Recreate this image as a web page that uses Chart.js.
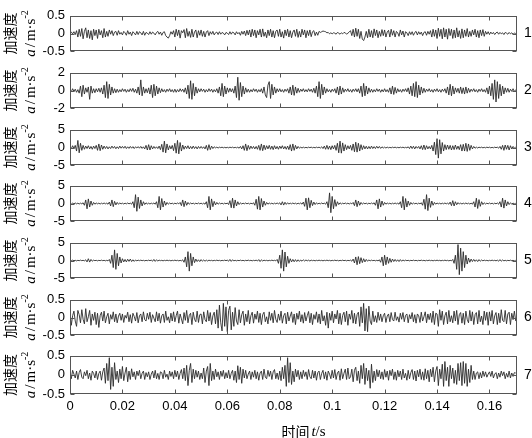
<!DOCTYPE html>
<html>
<head>
<meta charset="utf-8">
<script src="https://cdn.jsdelivr.net/npm/chart.js@4.4.1/dist/chart.umd.min.js"></script>
<style>
  html, body { margin: 0; padding: 0; background: #fff; }
  #wrap { position: relative; width: 532px; height: 438px; overflow: hidden; }
  #wrap canvas { position: absolute; left: 0; }
</style>
</head>
<body>
<div id="wrap"></div>
<script>
// 取樣間隔 (s)，每列 20 點 = 0.01 s
const DT = 0.0005;
const X_TICKS = [0, 0.02, 0.04, 0.06, 0.08, 0.1, 0.12, 0.14, 0.16];
const X_MAX = 0.1705;
const Y_TICKS = [[-0.5, 0, 0.5], [-2, 0, 2], [-5, 0, 5], [-5, 0, 5], [-5, 0, 5], [-0.5, 0, 0.5], [-0.5, 0, 0.5]];
const PANEL_NO = ['1', '2', '3', '4', '5', '6', '7'];

// 測點 1
const acc1 = [
  .02,.04,-.01,.05,-.03,.08,-.1,.12,-.08,.14,-.15,.06,.16,-.12,.1,-.14,.08,-.18,.12,-.06,
  .1,-.14,.12,-.04,.08,-.12,.14,-.1,.06,-.08,.1,-.02,.08,-.06,.04,.06,-.05,.08,-.02,.03,
  -.04,.06,.02,-.05,.08,-.02,.04,-.06,.05,.01,-.04,.06,-.03,.05,.02,-.04,.06,-.05,.03,.01,
  -.03,.05,-.02,.04,.01,-.04,.03,.06,-.02,.04,-.05,.03,.05,-.06,-.1,-.13,-.06,.05,-.02,.08,
  -.1,.12,-.06,.1,-.13,.08,.02,.11,-.12,.14,-.08,.06,-.11,.12,-.1,.04,.1,-.12,.08,-.05,
  .1,-.08,.06,-.1,.04,.08,-.06,.05,-.02,.06,-.04,.02,.04,-.03,.05,-.02,.03,.01,-.04,.03,
  .01,-.03,.05,-.02,.04,.02,-.04,.05,-.01,.03,-.05,.06,-.02,.07,-.06,.09,-.04,.1,-.1,.12,
  -.06,.1,-.12,.08,-.04,.12,-.1,.13,-.08,.04,-.12,.1,-.06,.12,-.1,.08,-.12,.06,.1,-.08,
  .12,-.1,.05,-.13,.1,-.06,.12,-.1,.08,-.12,.04,.1,-.08,.12,-.11,.06,-.1,.12,-.04,.1,
  -.12,.08,-.06,.1,-.09,.05,.08,-.06,.04,-.05,.06,.03,.05,.07,.06,.05,.02,.03,-.01,.02,
  -.01,.02,.01,-.02,.03,.01,-.02,.02,-.01,.03,.02,-.02,.01,.04,.08,-.06,.12,-.1,.15,-.08,
  .12,-.14,.06,-.16,-.2,-.1,.06,-.12,.12,-.1,.08,-.12,.13,-.06,.1,-.12,.06,-.08,.11,-.06,
  .1,-.1,.04,.09,-.1,.12,-.05,.08,-.1,.06,.02,-.08,.1,-.04,.07,-.1,.05,.02,-.06,.05,
  -.03,.05,-.05,.03,.06,-.04,.05,-.02,.04,-.06,.03,.05,-.05,.06,-.02,.08,-.1,.12,-.08,.1,
  -.14,.15,-.08,.12,-.15,.16,-.1,.12,-.16,.14,-.06,.12,-.14,.1,-.12,.16,-.1,.08,-.14,.13,
  -.12,.1,-.08,.14,-.1,.06,-.08,.1,-.04,.12,-.1,.08,-.12,.1,-.06,.11,-.08,.06,-.02,.05,
  -.03,.04,-.01,.03,-.03,.02,.04,-.02,.03,-.01,.02,-.03,.03,.01,-.02,.03,-.01,.02,-.02,.01,
  0
];

// 測點 2
const acc2 = [
  .1,-.15,.2,-.1,.15,-.2,.1,-.3,.5,-.7,.6,-.4,.3,-.2,.4,-1,.5,-.3,.2,-.25,
  .2,-.15,.25,-.2,.3,-.4,.6,-.8,1,-.9,.7,-.5,.4,-.3,.2,-.25,.15,-.2,.1,-.15,
  .2,-.1,.15,-.2,.1,-.15,.2,-.1,.25,-.2,.15,-.3,.4,-.5,1.2,-.6,.4,-.3,.2,-.25,
  .3,-.4,.6,-.8,.7,-.6,.5,-.4,.3,-.25,.2,-.15,.1,-.2,.15,-.1,.2,-.15,.1,-.2,
  .15,-.2,.1,-.15,.2,-.1,.15,-.2,.3,-.4,.6,-.9,1.1,-1,.8,-.6,.4,-.3,.2,-.15,
  .2,-.1,.15,-.2,.1,-.15,.2,-.1,.15,-.2,.1,-.15,.2,-.3,.4,-.6,.8,-.7,.5,-.4,
  .3,-.2,.25,-.15,.2,-.3,.5,-.8,1.5,-1.1,.9,-.7,.5,-.4,.3,-.2,.15,-.2,.1,-.15,
  .2,-.1,.15,-.2,.1,-.15,.2,-.3,.4,-.5,-.8,.6,1,-.9,.7,-.5,.4,-.3,.2,-.15,
  .2,-.15,.1,-.2,.15,-.1,.2,-.3,.4,-.5,.6,-.55,.4,-.3,.25,-.2,.15,-.1,.2,-.15,
  .1,-.15,.2,-.1,.15,-.2,.25,-.3,.5,-.7,1,-.9,.7,-.5,.4,-.3,.2,-.15,.1,-.2,
  .15,-.1,.2,-.3,.4,-.5,.5,-.4,.3,-.2,.15,-.1,.2,-.15,.1,-.2,.15,-.1,.2,-.15,
  .2,-.3,.5,-.7,.8,-.6,.5,-.4,.3,-.2,.15,-.2,.1,-.15,.2,-.1,.15,-.2,.1,-.15,
  .2,-.15,.1,-.2,.3,-.4,.5,-.45,.35,-.3,.2,-.15,.1,-.2,.15,-.1,.2,-.15,.3,-.4,
  .5,-.6,.8,-.7,1,-.8,.6,-.5,.4,-.3,.25,-.2,.15,-.1,.2,-.15,.1,-.2,.15,-.1,
  .2,-.15,.1,-.2,.15,-.1,.2,-.3,.4,-.5,.7,-.6,.5,-.4,.3,-.2,.25,-.3,.4,-.35,
  .3,-.4,.4,-.3,.25,-.2,.15,-.1,.2,-.15,.1,-.2,.15,-.1,.2,-.15,.1,-.2,.3,-.4,
  .5,-.6,.8,-1,1.2,-1.3,1,-.9,.7,-.6,.5,-.4,.3,-.2,.25,-.2,.15,-.1,.2,-.15,
  .1
];

// 測點 3
const acc3 = [
  .3,-.4,.5,-.3,.6,-1,2,-1.5,1.2,-.8,.6,-.5,.4,-.3,.5,-.4,.3,-.5,.4,-.3,
  .6,-.8,1,-.9,.7,-.5,.4,-.3,.3,-.4,.2,-.3,.4,-.2,.3,-.35,.2,-.3,.4,-.2,
  .3,-.2,.35,-.3,.2,-.25,.3,-.2,.25,-.3,.2,-.15,.25,-.2,.3,-.25,.2,-.4,.6,-.7,
  .8,-.7,.5,-.4,.3,-.25,.2,-.3,.4,-.6,.9,-1.3,1.8,-1.5,1,-.7,.5,-.4,.6,-.9,
  1.2,-1.6,2,-1.8,1.4,-1,.7,-.5,.4,-.3,.5,-.4,.3,-.35,.4,-.3,.25,-.4,.3,-.25,
  .3,-.25,.2,-.4,.6,-.8,.8,-.6,.4,-.3,.2,-.1,.1,-.15,.1,-.05,.1,-.1,.05,-.1,
  .05,-.1,.1,-.05,.1,-.1,.05,-.1,.1,-.2,.3,-.4,.5,-.8,1,-.9,.6,-.5,.4,-.3,
  .3,-.4,.3,-.5,.6,-.8,1,-.9,.7,-.6,.5,-.4,.6,-.5,.4,-.6,.5,-.4,.3,-.5,
  .4,-.3,.5,-.4,.3,-.5,.4,-.6,.8,-1,1,-.8,.6,-.4,.3,-.2,.1,-.15,.1,-.1,
  .05,-.1,.1,-.05,.1,-.1,.05,-.1,.1,-.05,.1,-.15,.2,-.3,.4,-.5,.6,-.5,.4,-.6,
  .5,-.4,.6,-.8,1.2,-1.5,1.8,-1.6,1.3,-1,.8,-.6,.5,-.4,.6,-.8,1,-1.2,1.5,-1.3,
  1.2,-1,.8,-.6,.5,-.4,.35,-.4,.3,-.35,.4,-.3,.25,-.3,.35,-.2,.3,-.25,.2,-.15,
  .1,-.15,.1,-.1,.05,-.1,.1,-.05,.1,-.1,.05,-.1,.1,-.05,.1,-.1,.05,-.1,.2,-.3,
  .4,-.3,.35,-.4,.3,-.2,.3,-.4,.5,-.6,.7,-.6,.5,-.4,.3,-.4,.6,-1,1.5,-2,
  2.5,-3,2.2,-1.8,1.4,-1,.8,-.6,.7,-.5,.6,-.7,.5,-.6,.7,-.5,.4,-.6,.8,-1,
  .9,-1,1.2,-1.1,1,-.8,.6,-.4,.3,-.2,.1,-.15,.1,-.05,.1,-.1,.05,-.1,.1,-.05,
  .1,-.1,.05,-.1,.1,-.05,.1,-.2,.3,-.5,.6,-.8,.7,-.5,.6,-.7,.5,-.4,.3,-.2,
  .1
];

// 測點 4
const acc4 = [
  .1,-.15,.1,-.1,.15,-.1,.1,-.15,.1,-.1,.2,-.5,1,-1.5,1.3,-1,.7,-.5,.3,-.2,
  .15,-.1,.1,-.15,.1,-.1,.15,-.1,.1,-.2,.4,-.7,1,-.9,.6,-.4,.3,-.2,.15,-.1,
  .1,-.15,.1,-.1,.15,-.1,.1,-.2,.5,-1.2,2.5,-2.2,1.8,-1.4,1,-.7,.5,-.3,.2,-.15,
  .1,-.15,.1,-.1,.15,-.2,.5,-1.2,2,-1.8,1.4,-1,.7,-.5,.3,-.2,.15,-.1,.1,-.15,
  .1,-.1,.15,-.1,.3,-.6,1,-.9,.7,-.5,.3,-.2,.15,-.1,.1,-.15,.1,-.1,.15,-.1,
  .1,-.15,.1,-.2,.5,-1.2,2,-1.8,1.3,-.9,.6,-.4,.3,-.2,.15,-.1,.1,-.15,.1,-.1,
  .15,-.3,.8,-1.2,1.5,-1.3,1,-.7,.5,-.3,.2,-.15,.1,-.1,.15,-.1,.1,-.15,.1,-.1,
  .2,-.5,1.2,-1.6,2,-1.8,1.4,-1,.7,-.5,.3,-.2,.15,-.1,.1,-.15,.1,-.1,.15,-.1,
  .2,-.4,.5,-.45,.35,-.25,.2,-.15,.1,-.1,.15,-.1,.1,-.15,.1,-.1,.15,-.2,.4,-.8,
  1.5,-1.8,1.6,-1.2,.9,-.6,.4,-.3,.2,-.15,.1,-.1,.15,-.1,.1,-.2,.5,-1.2,3,-2.6,
  2,-1.5,1.1,-.8,.5,-.3,.2,-.15,.1,-.1,.15,-.1,.1,-.15,.1,-.1,.3,-.6,1,-.9,
  .7,-.5,.3,-.2,.15,-.1,.1,-.15,.1,-.1,.15,-.1,.2,-.5,1,-1.5,1.3,-1,.7,-.5,
  .3,-.2,.15,-.1,.1,-.15,.1,-.1,.15,-.1,.1,-.2,.5,-1.2,2,-1.8,1.4,-1,.7,-.5,
  .3,-.2,.15,-.1,.1,-.15,.1,-.1,.2,-.5,1.2,-1.6,2.5,-2,1.5,-1.1,.7,-.5,.3,-.2,
  .15,-.1,.1,-.15,.1,-.1,.15,-.1,.1,-.2,.4,-.6,.8,-.7,.5,-.35,.25,-.15,.1,-.15,
  .1,-.1,.15,-.1,.1,-.15,.1,-.2,.5,-1,1.5,-1.4,1.1,-.8,.5,-.3,.2,-.15,.1,-.1,
  .15,-.1,.1,-.15,.1,-.1,.15,-.2,.5,-1,1.5,-1.3,1,-.7,.5,-.3,.2,-.15,.1,-.1,
  .05
];

// 測點 5
const acc5 = [
  .05,-.05,.1,-.05,.05,-.1,.05,-.05,.1,-.05,.05,-.1,.2,-.4,.5,-.45,.3,-.2,.1,-.05,
  .05,-.1,.05,-.05,.1,-.05,.05,-.1,.05,-.1,.3,-.8,1.5,-2,3,-2.5,2,-1.5,1,-.7,
  .5,-.4,.3,-.4,.35,-.25,.4,-.3,.2,-.25,.15,-.1,.1,-.05,.1,-.05,.05,-.1,.05,-.05,
  .1,-.05,.1,-.2,.3,-.25,.2,-.15,.1,-.05,.05,-.1,.05,-.05,.1,-.05,.05,-.1,.05,-.05,
  .1,-.05,.05,-.1,.05,-.1,.2,-.5,1,-1.8,2.5,-3,2,-1.5,1,-.6,.4,-.3,.2,-.3,
  .25,-.2,.15,-.2,.1,-.15,.1,-.05,.05,-.1,.05,-.05,.1,-.05,.05,-.1,.05,-.05,.1,-.05,
  .1,-.2,.3,-.25,.2,-.1,.05,-.1,.05,-.05,.1,-.05,.05,-.1,.05,-.05,.1,-.05,.05,-.1,
  .05,-.05,.1,-.15,.25,-.3,.2,-.15,.1,-.05,.05,-.1,.05,-.05,.1,-.05,.05,-.1,.3,-.8,
  1.5,-2.2,3,-3,2.4,-1.8,1.2,-.8,.5,-.4,.3,-.35,.25,-.3,.2,-.25,.15,-.2,.2,-.15,
  .15,-.1,.1,-.15,.1,-.05,.05,-.1,.05,-.05,.1,-.05,.05,-.1,.05,-.05,.1,-.05,.05,-.1,
  .05,-.05,.1,-.05,.05,-.1,.05,-.05,.1,-.05,.05,-.1,.05,-.05,.1,-.2,.4,-.7,1,-1.2,
  1.1,-.9,.8,-.6,.5,-.4,.3,-.2,.15,-.1,.1,-.05,.05,-.1,.05,-.1,.2,-.5,1,-1.5,
  1.5,-1.2,1,-.8,.6,-.5,.4,-.3,.3,-.25,.2,-.3,.25,-.2,.15,-.1,.1,-.05,.05,-.1,
  .05,-.05,.1,-.05,.05,-.1,.05,-.05,.1,-.05,.05,-.1,.05,-.05,.1,-.05,.05,-.1,.05,-.05,
  .1,-.05,.05,-.1,.05,-.05,.1,-.05,.05,-.1,.05,-.1,.3,-.8,1.5,-2.5,4.5,-4,3.5,-3,
  2.5,-2,1.5,-1,.7,-.5,.4,-.3,.3,-.25,.2,-.3,.25,-.2,.15,-.1,.1,-.05,.05,-.1,
  .05,-.05,.1,-.05,.05,-.1,.1,-.2,.25,-.2,.15,-.1,.05,-.1,.05,-.05,.1,-.05,.05,-.1,
  .05
];

// 測點 6
const acc6 = [
  .15,-.22,.05,.18,-.1,-.25,.2,.08,-.15,.22,-.05,-.18,.25,-.12,.02,.2,-.22,.1,-.08,.15,
  -.2,.12,-.28,.05,.15,-.1,.18,-.15,.02,.12,-.18,.08,-.05,.16,-.12,.1,-.15,.04,.12,-.08,
  .1,-.14,.06,-.02,.15,-.12,.08,-.16,.12,.03,-.1,.14,-.15,.05,.1,-.12,.16,-.06,-.1,.12,
  -.05,.15,-.14,.08,-.02,-.12,.16,-.1,.12,-.16,.05,.1,-.14,.18,-.08,.02,-.15,.12,-.1,.16,
  -.12,.05,.18,-.16,.1,-.04,-.18,.14,-.08,.2,-.15,.06,.12,-.2,.15,-.05,-.12,.18,-.14,.08,
  .1,-.18,.16,-.06,-.12,.2,-.1,.14,-.2,.05,.15,-.18,.22,-.3,.35,-.15,-.38,.4,-.25,.3,
  -.4,.2,.32,-.35,.15,-.25,.28,-.1,-.2,.22,-.15,.08,.18,-.22,.1,-.12,.2,-.18,.05,.15,
  -.16,.1,-.05,.18,-.14,.12,-.2,.08,.15,-.12,.02,-.18,.16,-.08,.12,-.15,.2,-.05,-.14,.1,
  -.08,.18,-.16,.05,.12,-.18,.15,-.1,.04,.16,-.14,.1,-.2,.12,-.05,.18,-.12,.08,-.16,.14,
  -.1,.05,.17,-.15,.12,-.2,.08,-.05,.16,-.14,.1,-.18,.2,-.1,.05,-.22,.15,-.3,.12,-.08,
  .18,-.15,.1,-.04,.2,-.18,.12,-.2,.06,.15,-.12,.18,-.22,.1,-.05,.2,-.16,.12,-.18,.08,
  .15,-.25,.3,-.15,.4,-.38,.25,-.4,.32,-.1,-.2,.18,-.12,.05,-.14,.15,-.08,.1,-.12,.05,
  .12,-.14,.04,.1,-.12,.14,-.06,-.1,.15,-.08,.02,-.13,.12,-.05,.14,-.12,.06,.1,-.15,.08,
  -.04,.14,-.12,.08,-.16,.1,.05,-.14,.15,-.1,.02,.16,-.15,.1,-.06,.12,-.14,.18,-.2,.12,
  .1,-.25,.22,-.08,.18,-.2,.05,.15,-.18,.2,-.12,.05,-.15,.18,-.1,.2,-.2,.08,.14,-.16,
  .12,-.2,.18,-.05,-.15,.2,-.1,.16,-.2,.08,.14,-.18,.2,-.12,.04,-.2,.18,-.08,.15,-.22,
  .16,-.1,.2,-.18,.05,.14,-.2,.12,-.15,.22,-.08,-.12,.2,-.18,.1,.15,-.2,.12,-.06,.18,
  -.1
];

// 測點 7
const acc7 = [
  .05,-.1,.12,.02,-.08,.1,-.12,.06,.14,-.06,-.1,.08,-.02,.12,-.1,.05,-.14,.1,.04,-.08,
  .1,-.12,.04,.1,-.14,.08,.18,-.22,.3,-.15,.45,-.38,.2,-.3,.32,-.12,.1,-.2,.15,-.1,
  .22,-.15,.05,.2,-.18,.1,-.12,.16,-.05,.08,-.12,.1,-.02,.12,-.1,.04,.1,-.12,.06,-.05,
  .08,-.12,.02,.1,-.08,.12,-.1,.04,-.12,.08,.06,-.1,.12,-.06,.02,-.12,.1,-.04,.08,-.1,
  .12,-.05,.1,-.12,.04,.14,-.1,.18,-.15,.25,-.28,.12,.3,-.2,.15,-.1,.12,-.06,.1,-.12,
  .05,-.1,.18,-.2,.1,.22,-.28,.3,-.15,.1,-.12,.15,-.05,.08,-.12,.1,-.04,.12,-.1,.06,
  -.08,.12,-.1,.04,.12,-.14,.1,-.2,.24,-.12,.2,-.22,.15,-.08,.12,-.1,.02,.1,-.12,.08,
  -.06,.12,-.1,.08,-.14,.05,.1,-.12,.15,-.06,-.1,.12,-.04,.1,-.12,.08,.14,-.1,.05,-.12,
  .1,-.15,.2,-.1,.25,-.3,.45,-.2,.32,-.25,.1,-.18,.15,-.05,.12,-.12,.08,-.1,.12,-.04,
  .08,-.12,.14,-.05,-.1,.12,-.08,.1,-.14,.06,.1,-.12,.04,.12,-.1,.08,-.14,.1,.02,-.1,
  .12,-.08,.14,-.12,.05,.1,-.14,.16,-.1,.04,.15,-.12,.18,-.1,-.05,.15,-.18,.12,.2,-.15,
  .1,-.22,.25,-.1,.3,-.25,.18,-.15,.12,-.35,.28,-.2,.1,-.15,.14,-.05,.12,-.1,.08,-.12,
  .14,-.06,.1,-.14,.12,-.02,.15,-.12,.08,-.14,.12,-.05,.1,-.12,.15,-.08,.04,-.14,.12,-.1,
  .06,.14,-.12,.1,-.16,.12,-.05,.15,-.12,.08,-.14,.16,-.1,.12,-.18,.15,-.05,.2,-.18,.1,
  .22,-.28,.15,-.1,.28,-.3,.35,-.15,.2,-.3,.25,-.1,.18,-.22,.12,-.25,.3,-.15,.32,-.28,
  .35,-.22,.3,-.3,.15,-.2,.25,-.12,.1,-.12,.05,.08,-.1,.06,-.08,.1,-.04,.08,-.06,.02,
  .08,-.04,.1,-.08,.02,.06,-.1,.05,-.06,.1,-.02,.08,-.1,.04,-.06,.1,-.08,.05,-.04,.06,
  .05
];

const SERIES = [acc1, acc2, acc3, acc4, acc5, acc6, acc7];

// 版面
const PANEL_TOP = [13, 70, 127, 183, 240, 297, 353];
const PANEL_H = 41;
const PAD = 10;

Chart.defaults.font.family = '"Liberation Sans", Arial, sans-serif';
Chart.defaults.font.size = 13;
Chart.defaults.color = '#000';

// 外框、內向刻度、右側編號、縱軸標題
const framePlugin = {
  id: 'frame',
  afterDatasetsDraw(chart, args, opts) {
    const { ctx, chartArea: a, scales: { x, y } } = chart;
    const L = Math.round(a.left) + .5, R = Math.round(a.right) - .5;
    const T = Math.round(a.top) + .5, B = Math.round(a.bottom) - .5;
    ctx.save();
    ctx.strokeStyle = '#555';
    ctx.lineWidth = 1;
    ctx.strokeRect(L, T, R - L, B - T);
    ctx.beginPath();
    X_TICKS.forEach(v => {
      const px = Math.round(x.getPixelForValue(v)) + .5;
      ctx.moveTo(px, T); ctx.lineTo(px, T + 4);
      ctx.moveTo(px, B); ctx.lineTo(px, B - 4);
    });
    y.ticks.forEach(t => {
      const py = Math.round(y.getPixelForValue(t.value)) + .5;
      ctx.moveTo(L, py); ctx.lineTo(L + 4, py);
      ctx.moveTo(R, py); ctx.lineTo(R - 4, py);
    });
    ctx.stroke();

    // 右側編號
    ctx.fillStyle = '#000';
    ctx.font = '14px "Liberation Sans", Arial, sans-serif';
    ctx.textAlign = 'left';
    ctx.textBaseline = 'middle';
    ctx.fillText(opts.no, a.right + 7, y.getPixelForValue(0));

    // 縱軸標題（兩行，旋轉）
    const cy = (a.top + a.bottom) / 2;
    ctx.save();
    ctx.translate(10, cy);
    ctx.rotate(-Math.PI / 2);
    ctx.textAlign = 'center';
    ctx.font = '14px "Noto Sans CJK SC", sans-serif';
    ctx.fillText('加速度', 0, 0);
    ctx.restore();

    const parts = [
      { t: 'a', f: 'italic 15px "Liberation Serif", serif', dy: 0, gap: 2 },
      { t: '/', f: '15px "Liberation Serif", serif', dy: 0, gap: 2 },
      { t: 'm·s', f: '15px "Liberation Serif", serif', dy: 0, gap: 0 },
      { t: '-2', f: '10px "Liberation Serif", serif', dy: -6, gap: 0 }
    ];
    let w = 0;
    parts.forEach(p => { ctx.font = p.f; p.w = ctx.measureText(p.t).width; w += p.w + p.gap; });
    ctx.save();
    ctx.translate(31, cy);
    ctx.rotate(-Math.PI / 2);
    ctx.textAlign = 'left';
    let cx = -w / 2;
    parts.forEach(p => { ctx.font = p.f; ctx.fillText(p.t, cx, p.dy); cx += p.w + p.gap; });
    ctx.restore();

    // 橫軸標題
    if (opts.last) {
      const tx = [
        { t: '时间', f: '14px "Noto Sans CJK SC", sans-serif', gap: 2 },
        { t: 't', f: 'italic 15px "Liberation Serif", serif', gap: 0 },
        { t: '/s', f: '15px "Liberation Serif", serif', gap: 0 }
      ];
      let tw = 0;
      tx.forEach(p => { ctx.font = p.f; p.w = ctx.measureText(p.t).width; tw += p.w + p.gap; });
      let sx = (a.left + a.right) / 2 + 10 - tw / 2;
      const sy = a.bottom + 38;
      ctx.textAlign = 'left';
      tx.forEach(p => { ctx.font = p.f; ctx.fillText(p.t, sx, sy); sx += p.w + p.gap; });
    }
    ctx.restore();
  }
};

const wrap = document.getElementById('wrap');
SERIES.forEach((arr, i) => {
  const last = i === SERIES.length - 1;
  const cv = document.createElement('canvas');
  const h = last ? 438 - (PANEL_TOP[i] - PAD) : PANEL_H + 2 * PAD;
  cv.width = 532; cv.height = h;
  cv.style.top = (PANEL_TOP[i] - PAD) + 'px';
  cv.style.width = '532px'; cv.style.height = h + 'px';
  wrap.appendChild(cv);

  const xAxisH = last ? 20 : 0;
  new Chart(cv, {
    type: 'line',
    data: {
      datasets: [{
        data: arr.map((v, k) => ({ x: k * DT, y: v })),
        borderColor: '#2b2b2b',
        borderWidth: 0.9,
        pointRadius: 0,
        tension: 0,
        fill: false
      }]
    },
    options: {
      responsive: false,
      animation: false,
      events: [],
      layout: { padding: { left: 0, right: 15, top: PAD, bottom: h - PAD - PANEL_H - xAxisH } },
      plugins: { legend: { display: false }, tooltip: { enabled: false }, frame: { no: PANEL_NO[i], last } },
      scales: {
        x: {
          type: 'linear',
          min: 0, max: X_MAX,
          display: last,
          afterBuildTicks: s => { s.ticks = X_TICKS.map(v => ({ value: v })); },
          afterFit: s => { s.height = xAxisH; },
          grid: { display: false, drawTicks: false },
          border: { display: false },
          ticks: { autoSkip: false, maxRotation: 0, padding: 5, callback: v => String(v) }
        },
        y: {
          min: Y_TICKS[i][0], max: Y_TICKS[i][2],
          afterBuildTicks: s => { s.ticks = Y_TICKS[i].map(v => ({ value: v })); },
          afterFit: s => { s.width = 70; },
          grid: { display: false, drawTicks: false },
          border: { display: false },
          ticks: { autoSkip: false, padding: 5, callback: v => String(v) }
        }
      }
    },
    plugins: [framePlugin]
  });
});
</script>
</body>
</html>
